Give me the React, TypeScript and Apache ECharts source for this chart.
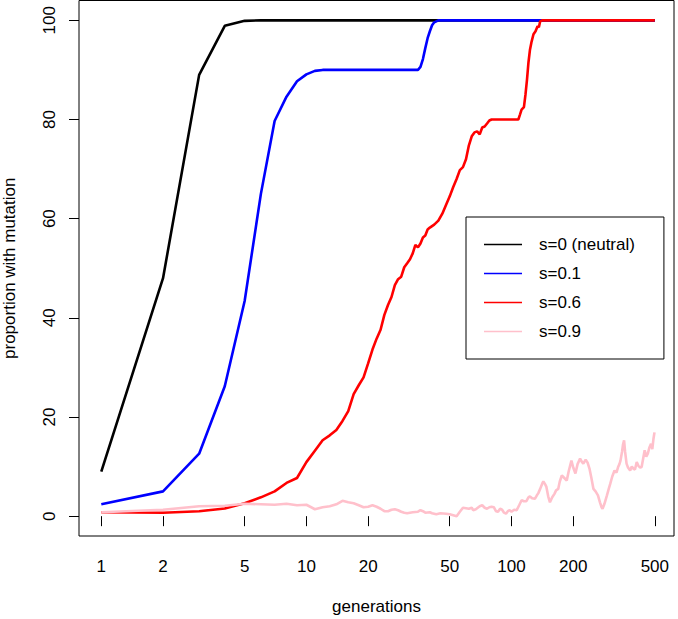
import React, { useEffect, useRef } from "react";
import * as echarts from "echarts";

const xTicks = [1, 2, 5, 10, 20, 50, 100, 200, 500];
const yTicks = [0, 20, 40, 60, 80, 100];
const legendNames = ["s=0 (neutral)", "s=0.1", "s=0.6", "s=0.9"];
const seriesColors = ["#000000", "#0000ff", "#ff0000", "#ffc0cb"];

const neutralGen = [1, 2, 3, 4, 5, 6, 500];
const neutralVal = [9, 48, 89, 98.9, 99.9, 100, 100];

const s01Gen = [1, 2, 3, 4, 5, 6, 7, 8, 9, 10, 11, 12, 35, 36, 37, 38, 39, 40, 41, 42, 44, 500];
const s01Val = [2.4, 5.0, 12.6, 26.2, 43.4, 65.0, 79.7, 84.6, 87.7, 89.1, 89.8, 90, 90, 90.6, 92.2, 94.4, 96.4, 97.8, 99.0, 99.6, 100, 100];

const s06Gen = [1, 2, 3, 4, 5, 6, 7, 8, 9, 10, 11, 12, 13, 14, 15, 16, 17, 18, 19, 20,
  21, 22, 23, 24, 25, 26, 27, 28, 29, 30, 31, 32, 33, 34, 35, 36, 37, 38, 39, 40,
  42, 44, 46, 48, 50, 52, 54, 56, 58, 60, 62, 64, 66, 68, 70, 72, 74, 76, 78, 80,
  108, 110, 112, 115, 117, 119, 121, 123, 125, 128, 131, 134, 136, 138, 141, 500];
const s06Val = [0.8, 0.7, 1.0, 1.55, 2.6, 3.8, 5.0, 6.7, 7.7, 10.9, 13.2, 15.3, 16.3, 17.4, 19.2, 21.2, 24.6, 26.4, 28.0, 30.8,
  33.6, 35.8, 37.6, 40.6, 42.6, 44.2, 46.6, 47.8, 48.3, 50.2, 51.0, 51.8, 53.0, 54.7, 54.2, 55.0, 56.2, 56.6, 57.8, 58.2,
  58.8, 59.6, 61.0, 62.8, 64.5, 66.4, 68.0, 69.8, 70.4, 72.0, 74.8, 76.6, 77.4, 77.6, 77.0, 78.4, 78.6, 79.2, 79.8, 80.0,
  80.0, 81.0, 82.0, 82.5, 85.0, 88.0, 91.5, 94.0, 95.5, 97.2, 97.8, 98.8, 98.6, 99.8, 100, 100];

const s09Gen = [1, 2, 3, 4, 5, 6, 7, 8, 9, 10, 11, 12, 13, 14, 15, 16, 17, 18, 19, 20,
  21, 22, 23, 24, 25, 26, 27, 28, 29, 30, 31, 33, 35, 36, 37, 38, 40, 41, 43, 45,
  48, 50, 52, 54, 56, 58, 60, 62, 64, 65, 67, 70, 72, 74, 76, 78, 80, 82, 84, 86,
  88, 90, 92, 94, 96, 98, 100, 103, 106, 109, 112, 115, 118, 121, 123, 126, 130, 133, 135, 138,
  141, 143, 146, 148, 151, 154, 158, 162, 165, 169, 172, 176, 180, 186, 190, 196, 200, 205, 210, 216,
  220, 224, 230, 235, 240, 245, 251, 257, 264, 270, 275, 278, 284, 292, 298, 303, 310, 318, 325, 331,
  336, 340, 346, 350, 354, 358, 364, 370, 379, 386, 393, 400, 408, 415, 424, 431, 438, 446, 454, 462,
  470, 479, 486, 492, 498, 500];
const s09Val = [0.8, 1.3, 2.0, 2.1, 2.5, 2.4, 2.3, 2.5, 2.2, 2.3, 1.4, 1.8, 2.0, 2.4, 3.1, 2.8, 2.6, 2.2, 1.8, 1.9,
  2.2, 1.9, 1.5, 1.0, 1.0, 1.3, 1.4, 1.2, 0.9, 0.7, 0.6, 0.8, 0.9, 1.2, 1.0, 0.7, 0.8, 0.6, 0.4, 0.6,
  0.5, 0.4, 0.2, 0.0, 0.9, 1.7, 1.6, 1.5, 1.7, 1.2, 1.4, 2.0, 2.2, 1.7, 1.5, 1.8, 1.9, 1.8, 1.0, 0.9,
  1.5, 1.3, 0.7, 0.5, 1.0, 1.2, 0.9, 1.3, 1.2, 2.2, 3.2, 3.0, 3.0, 3.8, 4.0, 3.6, 3.5, 4.2, 4.6, 5.5,
  6.5, 7.0, 6.4, 5.9, 4.0, 2.8, 3.8, 4.5, 5.2, 5.5, 7.0, 8.2, 7.8, 7.2, 9.0, 11.2, 9.8, 8.6, 10.5, 11.6,
  11.0, 10.6, 11.4, 10.8, 9.6, 7.8, 5.5, 5.0, 4.2, 2.8, 1.8, 1.5, 2.5, 4.2, 5.5, 6.5, 8.0, 9.2, 8.8, 9.9,
  10.5, 11.2, 13.0, 14.5, 15.3, 13.0, 10.6, 9.8, 9.2, 10.0, 9.6, 9.4, 10.9, 10.2, 9.8, 9.9, 11.5, 13.3, 12.0, 12.6,
  13.8, 14.6, 13.5, 15.5, 16.9, 17.0];

const allGen = [neutralGen, s01Gen, s06Gen, s09Gen];
const allVal = [neutralVal, s01Val, s06Val, s09Val];

const FONT = "'Liberation Sans', Arial, Helvetica, sans-serif";
const FS = 17;

export default function App() {
  const ref = useRef<HTMLDivElement>(null);
  useEffect(() => {
    if (!ref.current) return;
    const chart = echarts.init(ref.current, undefined, { renderer: "svg" });
    const series = legendNames.map((name, i) => ({
      name,
      type: "line",
      data: allGen[i].map((g, j) => [g, allVal[i][j]]),
      showSymbol: false,
      symbol: "none",
      color: seriesColors[i],
      lineStyle: { color: seriesColors[i], width: 2.6 },
      z: 2 + i,
    }));
    chart.setOption({
      animation: false,
      textStyle: { fontFamily: FONT },
      grid: {
        left: 79,
        right: 4,
        top: 0.5,
        bottom: 83,
        show: true,
        containLabel: false,
        outerBoundsMode: "none",
        borderColor: "#000",
        borderWidth: 1,
        backgroundColor: "transparent",
      },
      xAxis: {
        type: "log",
        logBase: 10,
        min: 0.7786,
        max: 620,
        name: "generations",
        nameLocation: "middle",
        nameGap: 62,
        nameTextStyle: { fontSize: FS, color: "#000", fontFamily: FONT },
        axisLine: { show: false },
        axisTick: { show: true, length: 10, customValues: xTicks, lineStyle: { color: "#000" } },
        axisLabel: { customValues: xTicks, fontSize: FS, color: "#000", margin: 22, fontFamily: FONT, formatter: (v: number) => String(Math.round(v)) },
        splitLine: { show: false },
        minorTick: { show: false },
      },
      yAxis: {
        type: "value",
        min: -4,
        max: 104,
        name: "proportion with mutation",
        nameLocation: "middle",
        nameGap: 61,
        nameRotate: 90,
        nameTextStyle: { fontSize: FS, color: "#000", fontFamily: FONT },
        axisLine: { show: false },
        axisTick: { show: true, length: 10, customValues: yTicks, lineStyle: { color: "#000" } },
        axisLabel: { customValues: yTicks, rotate: 90, fontSize: FS, color: "#000", margin: 21, fontFamily: FONT },
        splitLine: { show: false },
      },
      legend: {
        orient: "vertical",
        left: 466,
        top: 217,
        padding: [19, 29, 19, 18],
        borderColor: "#000",
        borderWidth: 1,
        backgroundColor: "#fff",
        itemWidth: 38,
        itemHeight: 1.5,
        itemGap: 12,
        icon: "rect",
        itemStyle: { borderWidth: 0 },
        textStyle: { fontSize: FS, color: "#000", fontFamily: FONT, lineHeight: 17, padding: [0, 0, 0, 12] },
        data: legendNames,
      },
      series,
    });
    return () => chart.dispose();
  }, []);
  return <div ref={ref} style={{ width: 678, height: 619, position: "absolute", left: 0, top: 0 }} />;
}
